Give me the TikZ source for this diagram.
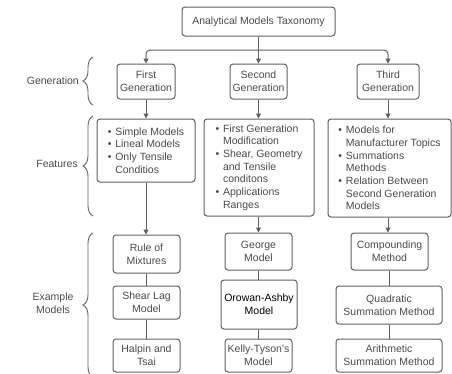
\documentclass[tikz,border=0pt]{standalone}
\usepackage{fontspec}
\setmainfont{Liberation Sans}
\usetikzlibrary{arrows.meta,decorations.pathreplacing,calc}
\definecolor{ln}{HTML}{5F5F5F}
\definecolor{tx}{HTML}{4A4A4A}
\newcommand{\bul}{\makebox[7.5pt][l]{\textbullet}}
\newcommand{\cnt}{\hspace*{7.5pt}}
\begin{document}
\begin{tikzpicture}[x=1pt,y=-1pt,
  font=\fontsize{10.5}{12.7}\selectfont,
  box/.style={draw=ln, line width=1pt, rounded corners=3pt, text=tx, align=center, inner sep=0pt},
  lbl/.style={text=tx, inner sep=0pt},
  arr/.style={draw=ln, line width=1pt, -{Triangle[length=5pt,width=5pt]}},
  con/.style={draw=ln, line width=1pt},
  brc/.style={draw=ln, line width=0.9pt, decorate, decoration={brace, amplitude=10pt}}]
\useasboundingbox (0,0) rectangle (452,373);
\clip (0,0) rectangle (452,373);
% top
\node[box, minimum width=153pt, minimum height=29pt] (top) at (258.5,21.5) {Analytical Models Taxonomy};
% generations
\node[box, minimum width=58pt, minimum height=35pt] (g1) at (146,81.5) {First\\Generation};
\node[box, minimum width=57pt, minimum height=35pt] (g2) at (258.5,81.5) {Second\\Generation};
\node[box, minimum width=62pt, minimum height=35pt] (g3) at (388,81.5) {Third\\Generation};
% features
\node[box, align=left, minimum width=98pt, minimum height=63pt] (f1) at (146,150.5)
  {\bul Simple Models\\\bul Lineal Models\\\bul Only Tensile\\\cnt Conditios};
\node[box, align=left, minimum width=110pt, minimum height=97pt] (f2) at (259,167.5)
  {\bul First Generation\\\cnt Modification\\\bul Shear, Geometry\\\cnt and Tensile\\\cnt conditons\\\bul Applications\\\cnt Ranges};
\node[box, align=left, minimum width=123pt, minimum height=98pt] (f3) at (389.5,168)
  {\bul Models for\\\cnt Manufacturer Topics\\\bul Summations\\\cnt Methods\\\bul Relation Between\\\cnt Second Generation\\\cnt Models};
% examples
\node[box, minimum width=67pt, minimum height=38pt] (e11) at (146.5,254) {Rule of\\Mixtures};
\node[box, minimum width=67pt, minimum height=33pt] (e12) at (146.5,302.5) {Shear Lag\\Model};
\node[box, minimum width=67pt, minimum height=33pt] (e13) at (146.5,355.5) {Halpin and\\Tsai};
\node[box, minimum width=67pt, minimum height=37pt] (e21) at (258.5,251.5) {George\\Model};
\node[box, minimum width=76pt, minimum height=49pt, text=black] (e22) at (259,304.5) {Orowan-Ashby\\Model};
\node[box, minimum width=67pt, minimum height=33pt] (e23) at (258.5,355.5) {Kelly-Tyson's\\Model};
\node[box, minimum width=77pt, minimum height=37pt] (e31) at (389.5,251.5) {Compounding\\Method};
\node[box, minimum width=106pt, minimum height=38pt] (e32) at (389,305) {Quadratic\\Summation Method};
\node[box, minimum width=106pt, minimum height=33pt] (e33) at (389,355.5) {Arithmetic\\Summation Method};
% labels
\node[lbl, anchor=east] (lg) at (79,81) {Generation};
\node[lbl, anchor=east] (lf) at (78,164) {Features};
\node[lbl, align=center] (le) at (53,303) {Example\\Models};
% connectors
\coordinate (j) at (258.5,50);
\draw[arr] (top.south) -- (g2.north);
\draw[arr, rounded corners=4pt] (j) -| (g1.north);
\draw[arr, rounded corners=4pt] (j) -| (g3.north);
\draw[arr] (g1.south) -- (g1.south |- f1.north);
\draw[arr] (g2.south) -- (g2.south |- f2.north);
\draw[arr] (g3.south) -- (g3.south |- f3.north);
\draw[arr] (f1.south) -- (f1.south |- e11.north);
\draw[arr] (g2.south |- f2.south) -- (g2.south |- e21.north);
\draw[arr] (g3.south |- f3.south) -- (g3.south |- e31.north);
\draw[con] (e11.south) -- (e11.south |- e12.north);
\draw[con] (e12.south) -- (e12.south |- e13.north);
\draw[con] (e21.south) -- (e21.south |- e22.north);
\draw[con] (e21.south |- e22.south) -- (e21.south |- e23.north);
\draw[con] (e32.north |- e31.south) -- (e32.north);
\draw[con] (e32.south) -- (e32.south |- e33.north);
% braces
\coordinate (b1a) at (93,105); \coordinate (b1b) at (93,57);
\coordinate (b2a) at (93,216); \coordinate (b2b) at (93,116);
\coordinate (b3a) at (93,377); \coordinate (b3b) at (93,233);
\draw[brc] (b1a) -- (b1b);
\draw[brc] (b2a) -- (b2b);
\draw[brc] (b3a) -- (b3b);
\end{tikzpicture}
\end{document}
